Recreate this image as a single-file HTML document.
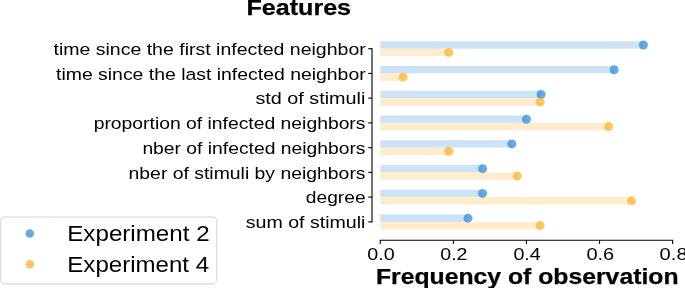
<!DOCTYPE html>
<html><head><meta charset="utf-8"><style>
html,body{margin:0;padding:0;background:#fff;}
body{width:685px;height:288px;overflow:hidden;font-family:"Liberation Sans",sans-serif;}
svg{display:block;}
svg{will-change:transform;}
</style></head><body>
<svg width="685" height="288" viewBox="0 0 685 288">
<rect width="685" height="288" fill="#fff"/>
<rect x="380.3" y="41.28" width="263.09" height="7.42" fill="rgb(204,227,245)"/>
<rect x="380.3" y="48.70" width="68.51" height="7.42" fill="rgb(255,236,204)"/>
<rect x="380.3" y="66.02" width="233.86" height="7.42" fill="rgb(204,227,245)"/>
<rect x="380.3" y="73.44" width="22.84" height="7.42" fill="rgb(255,236,204)"/>
<rect x="380.3" y="90.75" width="160.78" height="7.42" fill="rgb(204,227,245)"/>
<rect x="380.3" y="98.17" width="159.86" height="7.42" fill="rgb(255,236,204)"/>
<rect x="380.3" y="115.49" width="146.16" height="7.42" fill="rgb(204,227,245)"/>
<rect x="380.3" y="122.91" width="228.38" height="7.42" fill="rgb(255,236,204)"/>
<rect x="380.3" y="140.23" width="131.54" height="7.42" fill="rgb(204,227,245)"/>
<rect x="380.3" y="147.65" width="68.51" height="7.42" fill="rgb(255,236,204)"/>
<rect x="380.3" y="164.97" width="102.31" height="7.42" fill="rgb(204,227,245)"/>
<rect x="380.3" y="172.38" width="137.02" height="7.42" fill="rgb(255,236,204)"/>
<rect x="380.3" y="189.70" width="102.31" height="7.42" fill="rgb(204,227,245)"/>
<rect x="380.3" y="197.12" width="251.21" height="7.42" fill="rgb(255,236,204)"/>
<rect x="380.3" y="214.44" width="87.70" height="7.42" fill="rgb(204,227,245)"/>
<rect x="380.3" y="221.86" width="159.86" height="7.42" fill="rgb(255,236,204)"/>
<circle cx="643.39" cy="44.99" r="4.5" fill="rgb(51,143,216)" fill-opacity="0.75"/>
<circle cx="614.16" cy="69.73" r="4.5" fill="rgb(51,143,216)" fill-opacity="0.75"/>
<circle cx="541.08" cy="94.46" r="4.5" fill="rgb(51,143,216)" fill-opacity="0.75"/>
<circle cx="526.46" cy="119.20" r="4.5" fill="rgb(51,143,216)" fill-opacity="0.75"/>
<circle cx="511.84" cy="143.94" r="4.5" fill="rgb(51,143,216)" fill-opacity="0.75"/>
<circle cx="482.61" cy="168.67" r="4.5" fill="rgb(51,143,216)" fill-opacity="0.75"/>
<circle cx="482.61" cy="193.41" r="4.5" fill="rgb(51,143,216)" fill-opacity="0.75"/>
<circle cx="468.00" cy="218.15" r="4.5" fill="rgb(51,143,216)" fill-opacity="0.75"/>
<circle cx="448.81" cy="52.41" r="4.5" fill="rgb(255,179,46)" fill-opacity="0.75"/>
<circle cx="403.14" cy="77.15" r="4.5" fill="rgb(255,179,46)" fill-opacity="0.75"/>
<circle cx="540.16" cy="101.88" r="4.5" fill="rgb(255,179,46)" fill-opacity="0.75"/>
<circle cx="608.67" cy="126.62" r="4.5" fill="rgb(255,179,46)" fill-opacity="0.75"/>
<circle cx="448.81" cy="151.36" r="4.5" fill="rgb(255,179,46)" fill-opacity="0.75"/>
<circle cx="517.33" cy="176.09" r="4.5" fill="rgb(255,179,46)" fill-opacity="0.75"/>
<circle cx="631.51" cy="200.83" r="4.5" fill="rgb(255,179,46)" fill-opacity="0.75"/>
<circle cx="540.16" cy="225.57" r="4.5" fill="rgb(255,179,46)" fill-opacity="0.75"/>
<g stroke="#000" stroke-width="1.11" fill="none">
<line x1="372.0" y1="48.15" x2="372.0" y2="222.41"/>
<line x1="368.25" y1="48.70" x2="372.0" y2="48.70"/>
<line x1="368.25" y1="73.44" x2="372.0" y2="73.44"/>
<line x1="368.25" y1="98.17" x2="372.0" y2="98.17"/>
<line x1="368.25" y1="122.91" x2="372.0" y2="122.91"/>
<line x1="368.25" y1="147.65" x2="372.0" y2="147.65"/>
<line x1="368.25" y1="172.38" x2="372.0" y2="172.38"/>
<line x1="368.25" y1="197.12" x2="372.0" y2="197.12"/>
<line x1="368.25" y1="221.86" x2="372.0" y2="221.86"/>
<line x1="379.75" y1="240.2" x2="673.17" y2="240.2"/>
<line x1="380.30" y1="240.2" x2="380.30" y2="243.95"/>
<line x1="453.38" y1="240.2" x2="453.38" y2="243.95"/>
<line x1="526.46" y1="240.2" x2="526.46" y2="243.95"/>
<line x1="599.54" y1="240.2" x2="599.54" y2="243.95"/>
<line x1="672.62" y1="240.2" x2="672.62" y2="243.95"/>
</g>
<g font-family="Liberation Sans, sans-serif" fill="#000" class="t">
<text x="365.79" y="54.90" font-size="17.4" text-anchor="end" textLength="312.31" lengthAdjust="spacingAndGlyphs">time since the first infected neighbor</text>
<text x="365.68" y="79.64" font-size="17.4" text-anchor="end" textLength="309.63" lengthAdjust="spacingAndGlyphs">time since the last infected neighbor</text>
<text x="365.39" y="104.37" font-size="17.4" text-anchor="end" textLength="109.94" lengthAdjust="spacingAndGlyphs">std of stimuli</text>
<text x="365.50" y="129.11" font-size="17.4" text-anchor="end" textLength="271.83" lengthAdjust="spacingAndGlyphs">proportion of infected neighbors</text>
<text x="365.50" y="153.85" font-size="17.4" text-anchor="end" textLength="223.10" lengthAdjust="spacingAndGlyphs">nber of infected neighbors</text>
<text x="365.56" y="178.58" font-size="17.4" text-anchor="end" textLength="237.01" lengthAdjust="spacingAndGlyphs">nber of stimuli by neighbors</text>
<text x="365.59" y="203.32" font-size="17.4" text-anchor="end" textLength="59.70" lengthAdjust="spacingAndGlyphs">degree</text>
<text x="365.44" y="228.06" font-size="17.4" text-anchor="end" textLength="119.64" lengthAdjust="spacingAndGlyphs">sum of stimuli</text>
<text x="380.93" y="259.80" font-size="17.4" text-anchor="middle" textLength="27.43" lengthAdjust="spacingAndGlyphs">0.0</text>
<text x="453.92" y="259.80" font-size="17.4" text-anchor="middle" textLength="27.20" lengthAdjust="spacingAndGlyphs">0.2</text>
<text x="527.08" y="259.80" font-size="17.4" text-anchor="middle" textLength="27.37" lengthAdjust="spacingAndGlyphs">0.4</text>
<text x="600.33" y="259.80" font-size="17.4" text-anchor="middle" textLength="27.86" lengthAdjust="spacingAndGlyphs">0.6</text>
<text x="673.62" y="259.80" font-size="17.4" text-anchor="middle" textLength="27.98" lengthAdjust="spacingAndGlyphs">0.8</text>
<text x="527.22" y="283.60" font-size="21.6" font-weight="bold" stroke="#000" stroke-width="0.25" text-anchor="middle" textLength="302.61" lengthAdjust="spacingAndGlyphs">Frequency of observation</text>
<text x="298.79" y="14.90" font-size="21.6" font-weight="bold" stroke="#000" stroke-width="0.25" text-anchor="middle" textLength="104.59" lengthAdjust="spacingAndGlyphs">Features</text>
<text x="67.26" y="240.90" font-size="21.6" textLength="142.37" lengthAdjust="spacingAndGlyphs">Experiment 2</text>
<text x="67.33" y="271.70" font-size="21.6" textLength="141.72" lengthAdjust="spacingAndGlyphs">Experiment 4</text>
</g>
<rect x="0.8" y="217.0" width="216.0" height="66.9" rx="4.2" ry="4.2" fill="none" stroke="#d6d6d6" stroke-width="1.11"/>
<circle cx="29.8" cy="233.5" r="4.3" fill="rgb(51,143,216)" fill-opacity="0.75"/>
<circle cx="29.8" cy="264.4" r="4.3" fill="rgb(255,179,46)" fill-opacity="0.75"/>
</svg>
</body></html>
